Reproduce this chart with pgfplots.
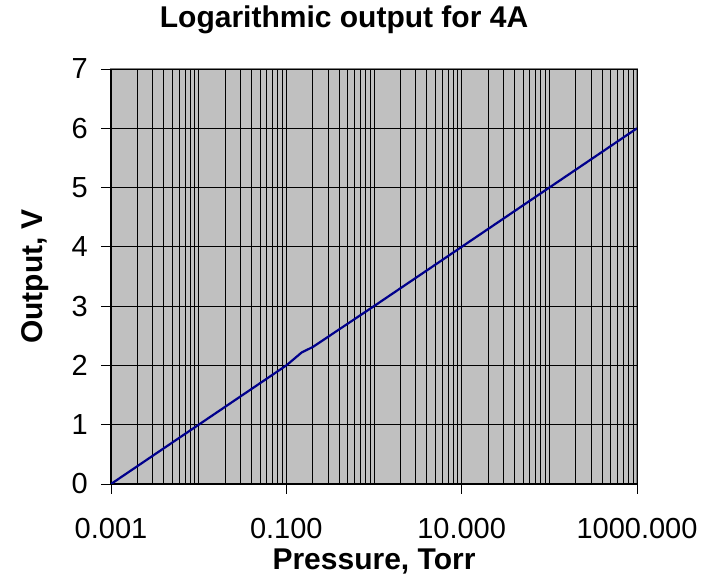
\documentclass[border=0pt]{standalone}
\usepackage{pgfplots}
\pgfplotsset{compat=1.18}
\usepackage{fontspec}
\setmainfont{Liberation Sans}
\definecolor{plotbg}{RGB}{192,192,192}
\definecolor{linenavy}{RGB}{0,0,140}
\begin{document}
\begin{tikzpicture}
\begin{axis}[name=ax, scale only axis, width=526pt, height=415pt,
  xmode=log, xmin=0.001, xmax=1000, ymin=0, ymax=7,
  xtick={0.001,0.1,10,1000},
  xticklabels={0.001,0.100,10.000,1000.000},
  minor xtick={0.002,0.003,0.004,0.005,0.006,0.007,0.008,0.009,
    0.01,0.02,0.03,0.04,0.05,0.06,0.07,0.08,0.09,
    0.2,0.3,0.4,0.5,0.6,0.7,0.8,0.9,
    1,2,3,4,5,6,7,8,9,
    20,30,40,50,60,70,80,90,
    100,200,300,400,500,600,700,800,900},
  ytick={0,1,2,3,4,5,6,7},
  xmajorgrids, xminorgrids, ymajorgrids,
  grid style={black, line width=0.8pt},
  minor grid style={black, line width=0.8pt},
  axis x line*=bottom, axis y line*=left,
  axis line style={black, line width=1pt},
  axis background/.style={fill=plotbg, draw=gray, line width=1.5pt},
  tick align=outside, major tick length=10pt, minor tick length=0pt,
  tick style={black, line width=0.8pt},
  /pgf/number format/assume math mode=true,
  tick label style={font=\fontsize{29}{34}\selectfont},
  xticklabel style={anchor=base, yshift=-45pt, inner sep=0pt},
  yticklabel style={anchor=east, xshift=-13pt, inner sep=0pt},
  label style={font=\fontsize{30}{36}\selectfont\bfseries},
  title style={font=\fontsize{30}{36}\selectfont\bfseries, at={(axis description cs:0.443,1)}, anchor=base, yshift=36pt, inner sep=0pt},
  xlabel style={at={(axis description cs:0.5,0)}, anchor=base, yshift=-86pt, inner sep=0pt},
  ylabel style={at={(axis description cs:0,0.5)}, anchor=base, yshift=68pt, inner sep=0pt},
  title={Logarithmic output for 4A},
  xlabel={Pressure, Torr},
  ylabel={Output, V},
]
\addplot[linenavy, line width=2.2pt] coordinates {
  (0.001,0) (0.01,1) (0.1,2) (0.15,2.22) (0.2,2.31) (1,3) (10,4) (100,5) (1000,6)};
\end{axis}
\pgfresetboundingbox
\path ([shift={(-111pt,-94pt)}]ax.south west) rectangle ([shift={(79pt,69pt)}]ax.north east);
\end{tikzpicture}
\end{document}
